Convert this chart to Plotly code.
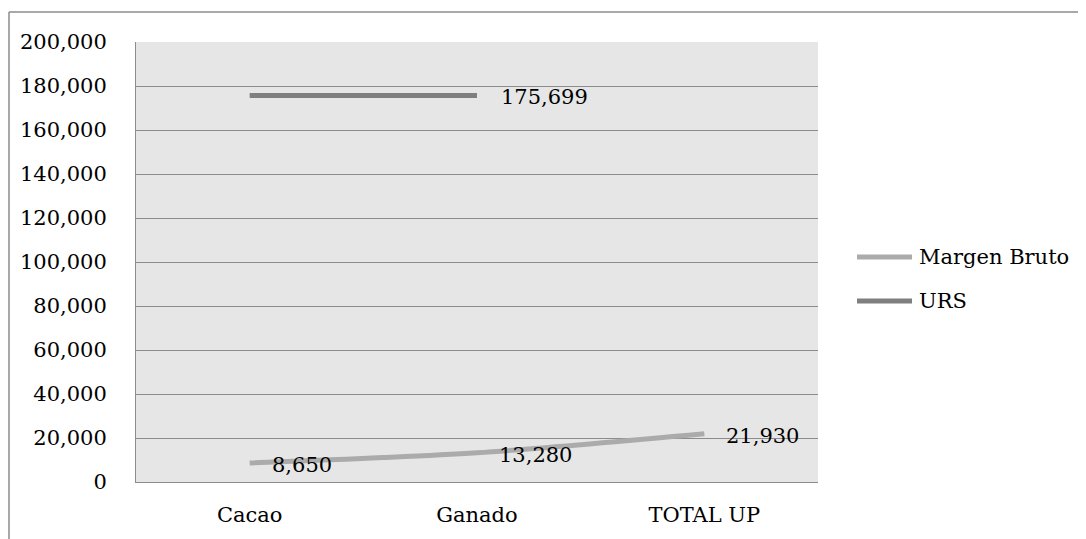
import plotly.graph_objects as go

# Chart data
categories = ["Cacao", "Ganado", "TOTAL UP"]
margen_bruto = [8650, 13280, 21930]
urs = [175699, 175699, None]
urs_label_idx = [1]  # only the Ganado point is labelled

y_ticks = list(range(0, 200001, 20000))

series_names = ["Margen Bruto", "URS"]
series_colors = ["#ababab", "#7f7f7f"]

FONT = "DejaVu Serif"
FS = 21
W, H = 1078, 531
L, T, PW, PH = 128, 34, 682, 440


def px_x(p):
    return (p - L) / PW


def px_y(p):
    return 1 - (p - T) / PH


fig = go.Figure()

fig.add_trace(go.Scatter(
    x=categories, y=margen_bruto, name=series_names[0], mode="lines",
    line=dict(color=series_colors[0], width=5, shape="spline", smoothing=0.8),
))
fig.add_trace(go.Scatter(
    x=categories, y=urs, name=series_names[1], mode="lines",
    line=dict(color=series_colors[1], width=5),
))

# Data labels
for c, v in zip(categories, margen_bruto):
    fig.add_annotation(x=c, y=v, text=f"{v:,}", showarrow=False,
                       xanchor="left", yanchor="middle", xshift=20, yshift=-2)
for i in urs_label_idx:
    fig.add_annotation(x=categories[i], y=urs[i], text=f"{urs[i]:,}", showarrow=False,
                       xanchor="left", yanchor="middle", xshift=22, yshift=-2)

# Legend drawn by hand (longer line swatches than plotly's own)
for k, (name, col) in enumerate(zip(series_names, series_colors)):
    yy = px_y(249 + 44 * k)
    fig.add_shape(type="line", xref="paper", yref="paper", x0=px_x(849), x1=px_x(904),
                  y0=yy, y1=yy, line=dict(color=col, width=5))
    fig.add_annotation(xref="paper", yref="paper", x=px_x(909), y=yy, text=name,
                       showarrow=False, xanchor="left", yanchor="middle")

# Outer chart border (left and top visible)
bx0 = px_x(1)
by1 = px_y(4)
fig.add_shape(type="line", xref="paper", yref="paper", x0=bx0, x1=bx0, y0=-0.3, y1=by1,
              line=dict(color="#8c8c8c", width=1.5))
fig.add_shape(type="line", xref="paper", yref="paper", x0=bx0, x1=1.5, y0=by1, y1=by1,
              line=dict(color="#8c8c8c", width=1.5))

fig.update_layout(
    width=W, height=H,
    margin=dict(l=L, r=W - L - PW, t=T, b=H - T - PH),
    paper_bgcolor="white", plot_bgcolor="#e6e6e6",
    font=dict(family=FONT, size=FS, color="black"),
    showlegend=False,
    xaxis=dict(range=[-0.5, 2.5], showgrid=False, showline=True, linecolor="#8c8c8c",
               linewidth=1, ticks="", ticklabelstandoff=14, zeroline=False,
               automargin=False),
    yaxis=dict(range=[0, 200000], tickvals=y_ticks, tickformat=",d", showgrid=True,
               gridcolor="#8c8c8c", gridwidth=1, showline=True, linecolor="#8c8c8c",
               linewidth=1, ticks="", ticklabelstandoff=24, zeroline=False,
               automargin=False),
)

fig.write_html("out.html")
